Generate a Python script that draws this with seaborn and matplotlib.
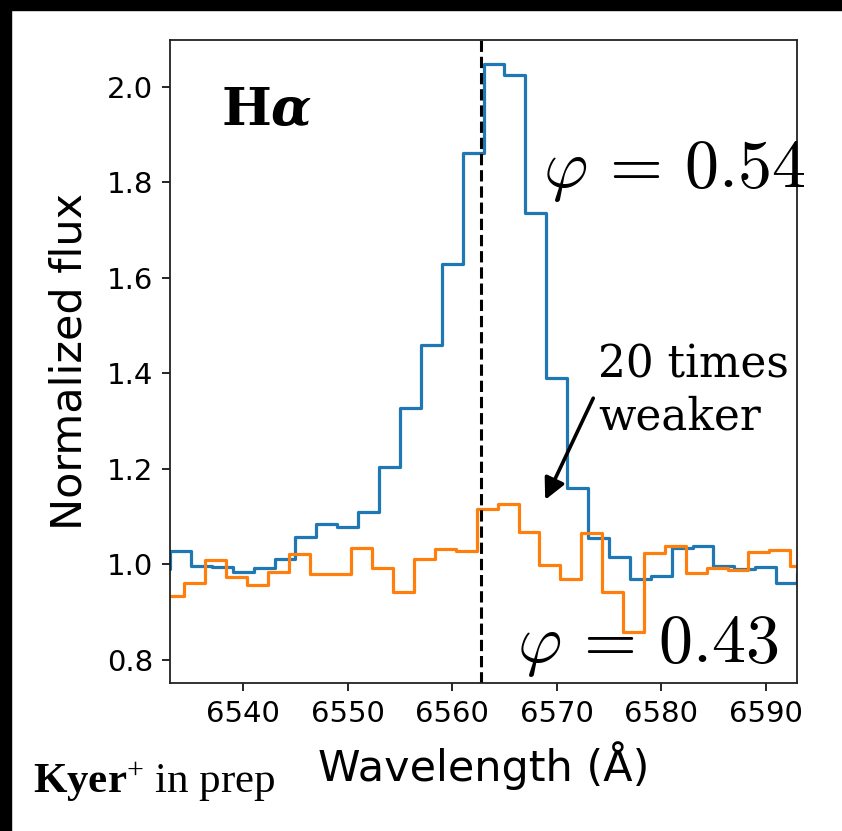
import matplotlib
matplotlib.use("Agg")
import matplotlib.pyplot as plt
import seaborn as sns
import pandas as pd
from matplotlib.patches import Rectangle

# Data (step spectra, 2 A bins)
wave_054 = [6532, 6534, 6536, 6538, 6540, 6542, 6544, 6546, 6548, 6550, 6552,
            6554, 6556, 6558, 6560, 6562, 6564, 6566, 6568, 6570, 6572, 6574,
            6576, 6578, 6580, 6582, 6584, 6586, 6588, 6590, 6592, 6594]
flux_054 = [0.990, 1.028, 0.996, 0.994, 0.983, 0.992, 1.010, 1.058, 1.084, 1.079, 1.110,
            1.204, 1.327, 1.459, 1.629, 1.862, 2.049, 2.026, 1.736, 1.390, 1.159, 1.054,
            1.015, 0.969, 0.975, 1.034, 1.038, 0.996, 0.990, 0.995, 0.961, 0.981]

wave_043 = [6531.35, 6533.35, 6535.35, 6537.35, 6539.35, 6541.35, 6543.35, 6545.35,
            6547.35, 6549.35, 6551.35, 6553.35, 6555.35, 6557.35, 6559.35, 6561.35,
            6563.35, 6565.35, 6567.35, 6569.35, 6571.35, 6573.35, 6575.35, 6577.35,
            6579.35, 6581.35, 6583.35, 6585.35, 6587.35, 6589.35, 6591.35, 6593.35]
flux_043 = [0.930, 0.934, 0.961, 1.008, 0.974, 0.956, 0.984, 1.022,
            0.980, 0.979, 1.034, 0.992, 0.941, 1.010, 1.032, 1.028,
            1.115, 1.126, 1.068, 0.998, 0.969, 1.066, 0.941, 0.857,
            1.023, 1.039, 0.981, 0.992, 0.987, 1.026, 1.030, 0.996]

halpha = 6562.8
x_ticks = [6540, 6550, 6560, 6570, 6580, 6590]
y_ticks = [0.8, 1.0, 1.2, 1.4, 1.6, 1.8, 2.0]

sns.set_style("ticks")
plt.rcParams["font.family"] = ["DejaVu Sans"]
plt.rcParams["text.color"] = "black"
plt.rcParams["axes.labelcolor"] = "black"
plt.rcParams["mathtext.rm"] = "Liberation Serif"
plt.rcParams["mathtext.bf"] = "Liberation Serif:bold"
plt.rcParams["mathtext.it"] = "Liberation Serif:italic"

df_a = pd.DataFrame({"wave": wave_054, "flux": flux_054})
df_b = pd.DataFrame({"wave": wave_043, "flux": flux_043})

fig = plt.figure(figsize=(8.42, 8.31), dpi=100)
ax = fig.add_axes([0.2019, 0.178, 0.7447, 0.7741])

sns.lineplot(data=df_a, x="wave", y="flux", ax=ax, color="#1f77b4",
             drawstyle="steps-mid", lw=2.3, estimator=None, sort=False)
sns.lineplot(data=df_b, x="wave", y="flux", ax=ax, color="#ff7f0e",
             drawstyle="steps-mid", lw=2.3, estimator=None, sort=False)
ax.axvline(halpha, color="black", ls="--", lw=2.2)

ax.set_xlim(6533, 6593)
ax.set_ylim(0.751, 2.099)
ax.set_xticks(x_ticks)
ax.set_yticks(y_ticks)
ax.set_yticklabels([f"{v:.1f}" for v in y_ticks])
ax.tick_params(labelsize=21, length=6, width=1.2, pad=6, colors="black")
for sp in ax.spines.values():
    sp.set_linewidth(1.3)
    sp.set_color("#222222")

ax.set_xlabel("Wavelength (Å)", fontsize=31, labelpad=10)
ax.set_ylabel("Normalized flux", fontsize=31, labelpad=12)

# annotations
ax.text(6537.9, 1.92, r"$\mathbf{H}\mathbfit{\alpha}$", fontsize=38,
        math_fontfamily="dejavuserif", va="baseline", ha="left")
ax.text(6568.7, 1.79, r"$\varphi\,=\,0.54$", fontsize=49,
        math_fontfamily="cm", va="baseline", ha="left", clip_on=False)
ax.text(6566.2, 0.795, r"$\varphi\,=\,0.43$", fontsize=49,
        math_fontfamily="cm", va="baseline", ha="left", clip_on=False)
ax.text(6574.0, 1.463, "20 times\nweaker", fontsize=31.5,
        family="DejaVu Serif", va="top", ha="left", linespacing=1.25)
ax.annotate("", xy=(6568.9, 1.135), xytext=(6573.5, 1.348),
            arrowprops=dict(arrowstyle="-|>", lw=2.6, color="black",
                            mutation_scale=32, shrinkA=0, shrinkB=0))

fig.text(0.039, 0.0457, r"$\mathbf{Kyer}^{+}\ \mathrm{in\ prep}$", fontsize=31,
         math_fontfamily="custom", va="baseline", ha="left")

# black frame strips on the top and left edge of the screenshot
fig.patches.append(Rectangle((0, 0), 11 / 842, 1, transform=fig.transFigure,
                             color="black", zorder=10))
fig.patches.append(Rectangle((0, 1 - 10 / 831), 1, 10 / 831, transform=fig.transFigure,
                             color="black", zorder=10))

fig.savefig("out.png", dpi=100)
